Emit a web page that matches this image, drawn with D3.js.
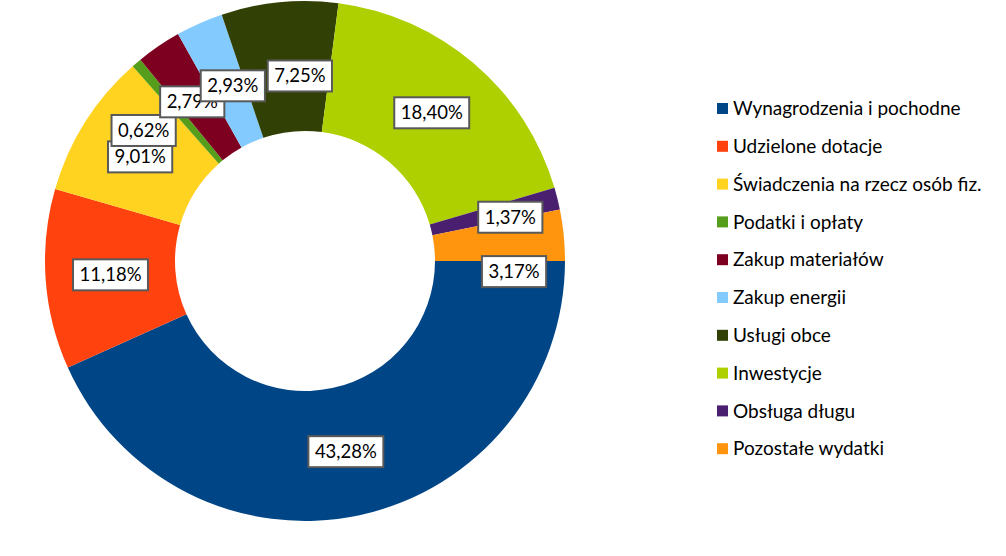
<!DOCTYPE html>
<html><head><meta charset="utf-8">
<script src="https://cdn.jsdelivr.net/npm/d3@7"></script>
<style>html,body{margin:0;padding:0;background:#fff;}svg{display:block;}</style>
</head><body>
<svg id="chart" width="1006" height="556"></svg>
<script>
const categories = ["Wynagrodzenia i pochodne","Udzielone dotacje","Świadczenia na rzecz osób fiz.","Podatki i opłaty","Zakup materiałów","Zakup energii","Usługi obce","Inwestycje","Obsługa długu","Pozostałe wydatki"];
const values = [43.28, 11.18, 9.01, 0.62, 2.79, 2.93, 7.25, 18.40, 1.37, 3.17];
const colors = ["#004586","#FF420E","#FFD320","#579D1C","#7E0021","#83CAFF","#314004","#AECF00","#4B1F6F","#FF950E"];

const data = categories.map((c,i)=>({name:c, value:values[i], color:colors[i]}));
const svg = d3.select("#chart");
const cx = 305, cy = 261, R = 260, r = 130;
const font = "Lato, 'Open Sans', sans-serif";

// label collision nudges (layout only)
const nudge = {
  "Podatki i opłaty":[-35,18],
  "Zakup materiałów":[-3,2],
  "Zakup energii":[7,3],
  "Usługi obce":[14,9],
  "Obsługa długu":[16,3],
  "Pozostałe wydatki":[15,30]
};

const pie = d3.pie().value(d=>d.value).sort(null)
  .startAngle(Math.PI/2).endAngle(Math.PI/2 + 2*Math.PI);
const arc = d3.arc().innerRadius(r).outerRadius(R);
const labelArc = d3.arc().innerRadius(195).outerRadius(195);
const arcs = pie(data);

const g = svg.append("g").attr("transform",`translate(${cx},${cy})`);
g.selectAll("path.slice").data(arcs).join("path")
  .attr("class","slice").attr("d",arc).attr("fill",d=>d.data.color);

const fmt = v => v.toFixed(2).replace(".",",") + "%";
const lg = g.selectAll("g.lbl").data(arcs).join("g").attr("class","lbl")
  .attr("transform",d=>{
    const [x,y] = labelArc.centroid(d);
    const n = nudge[d.data.name] || [0,0];
    return `translate(${x+n[0]},${y+n[1]})`;
  });
lg.each(function(d){
  const s = d3.select(this);
  const rect = s.append("rect");
  const t = s.append("text").text(fmt(d.data.value))
    .attr("text-anchor","middle").attr("dy","0.35em")
    .attr("font-family",font).attr("font-size",18.5).attr("fill","#000");
  const w = t.node().getComputedTextLength() + 13;
  const h = 31;
  rect.attr("x",-w/2).attr("y",-h/2).attr("width",w).attr("height",h)
    .attr("fill","#fff").attr("stroke","#595959").attr("stroke-width",2);
});

const leg = svg.append("g").attr("transform","translate(717,103)");
const rows = leg.selectAll("g").data(data).join("g")
  .attr("transform",(d,i)=>`translate(0,${i*37.8})`);
rows.append("rect").attr("width",11).attr("height",11).attr("fill",d=>d.color);
rows.append("text").attr("x",16).attr("y",5.5).attr("dy","0.35em")
  .attr("font-family",font).attr("font-size",19).attr("fill","#000")
  .text(d=>d.name);
</script>
</body></html>
